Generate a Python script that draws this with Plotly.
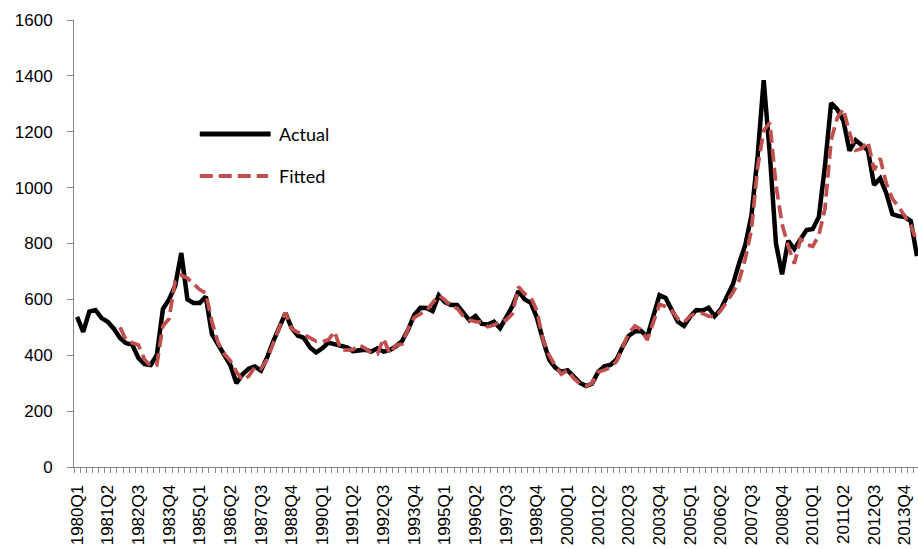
import plotly.graph_objects as go

# Quarterly periods 1980Q1 .. 2014Q2
quarters = [f"{y}Q{q}" for y in range(1980, 2015) for q in range(1, 5)][:138]

actual = [
    537, 484, 556, 562, 533, 520, 495, 462, 443, 438,
    390, 368, 365, 400, 565, 600, 648, 766, 600, 587,
    587, 610, 475, 440, 405, 365, 300, 332, 352, 360,
    345, 392, 450, 500, 551, 497, 470, 462, 428, 410,
    425, 445, 440, 435, 428, 415, 418, 420, 413, 425,
    413, 418, 432, 450, 492, 544, 570, 569, 558, 615,
    590, 580, 580, 550, 525, 540, 512, 510, 520, 497,
    540, 575, 630, 600, 588, 535, 455, 385, 356, 340,
    346, 322, 302, 290, 298, 340, 360, 365, 385, 430,
    470, 485, 487, 465, 540, 615, 605, 565, 520, 505,
    538, 562, 560, 570, 540, 565, 610, 655, 730, 795,
    900, 1110, 1385, 1120, 800, 690, 810, 780, 815, 848,
    852, 895, 1080, 1303, 1280, 1240, 1132, 1170, 1152, 1134,
    1010, 1033, 980, 905, 898, 895, 880, 755,
]

fitted = [None] * 7 + [
    500, 455, 445,
    437, 385, 362, 365, 505, 530, 665, 687, 676, 655,
    635, 622, 520, 445, 405, 380, 340, 311, 325, 358,
    352, 385, 445, 500, 552, 495, 482, 475, 462, 450,
    448, 455, 485, 420, 418, 420, 437, 425, 408, 405,
    460, 405, 435, 440, 495, 535, 548, 560, 588, 614,
    598, 575, 568, 540, 526, 520, 518, 502, 508, 520,
    526, 548, 645, 620, 608, 560, 455, 400, 362, 332,
    347, 318, 298, 290, 300, 340, 347, 357, 378, 430,
    480, 505, 492, 455, 515, 582, 575, 560, 530, 518,
    540, 550, 550, 540, 538, 560, 592, 625, 668, 745,
    850, 1070, 1205, 1232, 1010, 870, 790, 728, 815, 795,
    790, 830, 925, 1170, 1250, 1282, 1195, 1134, 1140, 1165,
    1063, 1105, 1015, 960, 932, 900, 865, 805,
]

tick_labels = [
    "1980Q1", "1981Q2", "1982Q3", "1983Q4", "1985Q1", "1986Q2", "1987Q3",
    "1988Q4", "1990Q1", "1991Q2", "1992Q3", "1993Q4", "1995Q1", "1996Q2",
    "1997Q3", "1998Q4", "2000Q1", "2001Q2", "2002Q3", "2003Q4", "2005Q1",
    "2006Q2", "2007Q3", "2008Q4", "2010Q1", "2011Q2", "2012Q3", "2013Q4",
]
tick_positions = [quarters.index(t) for t in tick_labels]

x = list(range(len(quarters)))
axis_grey = "#868686"
fitted_red = "#C0504D"
dash_style = "13px,6px"
tick_font = dict(family="Liberation Sans", size=17, color="black")

fig = go.Figure()
fig.add_trace(go.Scatter(
    x=x, y=actual, mode="lines", name="Actual", showlegend=False,
    line=dict(color="black", width=4.5),
    text=quarters, hovertemplate="%{text}: %{y}<extra>Actual</extra>",
))
fig.add_trace(go.Scatter(
    x=x, y=fitted, mode="lines", name="Fitted", showlegend=False,
    line=dict(color=fitted_red, width=3.75, dash=dash_style),
    text=quarters, hovertemplate="%{text}: %{y}<extra>Fitted</extra>",
))

# Legend drawn inside the plot area with long line samples
legend_x0, legend_x1, text_x = 0.149, 0.233, 0.240
fig.add_shape(type="line", xref="paper", yref="paper",
              x0=legend_x0, x1=legend_x1, y0=0.745, y1=0.745,
              line=dict(color="black", width=5))
fig.add_shape(type="line", xref="paper", yref="paper",
              x0=legend_x0, x1=legend_x1 - 0.003, y0=0.651, y1=0.651,
              line=dict(color=fitted_red, width=4, dash=dash_style))
for label, yy in (("Actual", 0.745), ("Fitted", 0.651)):
    fig.add_annotation(text=label, xref="paper", yref="paper", x=text_x, y=yy,
                       xanchor="left", yanchor="middle", showarrow=False,
                       font=dict(family="Lato", size=18, color="black"))

fig.update_layout(
    width=918, height=549, autosize=False,
    margin=dict(l=74, r=0, t=20, b=82),
    paper_bgcolor="white", plot_bgcolor="white",
    font=dict(family="Liberation Sans", color="black"),
    xaxis=dict(
        range=[-0.5, 137.17], tickmode="array",
        tickvals=tick_positions, ticktext=tick_labels, tickangle=-90,
        ticks="", showline=True, linecolor=axis_grey, linewidth=1,
        showgrid=False, zeroline=False,
        tickfont=tick_font,
        ticklabelstandoff=10,
        minor=dict(tick0=-0.5, dtick=1, ticks="outside", ticklen=5,
                   tickcolor=axis_grey, tickwidth=1, showgrid=False),
    ),
    yaxis=dict(
        range=[0, 1600], dtick=200, tick0=0,
        ticks="outside", ticklen=6, tickcolor=axis_grey, tickwidth=1,
        showline=True, linecolor=axis_grey, linewidth=1,
        showgrid=False, zeroline=False,
        tickfont=tick_font,
        ticklabelstandoff=11,
    ),
)

fig.write_html("out.html")
